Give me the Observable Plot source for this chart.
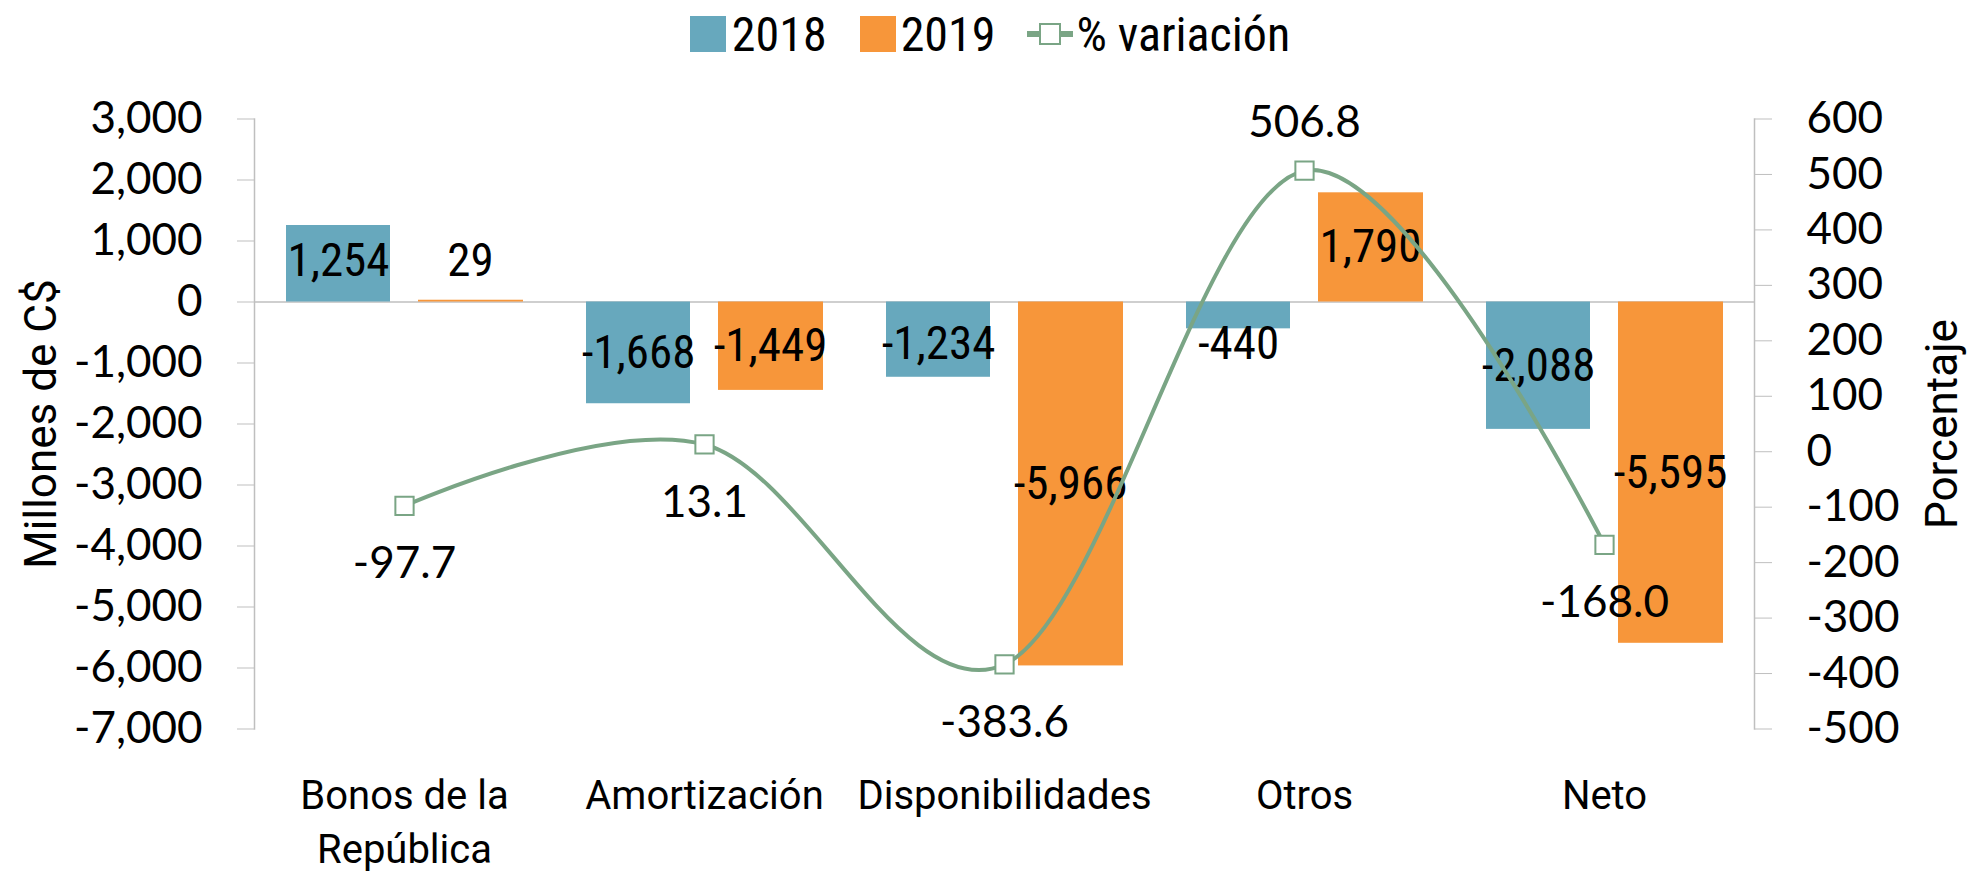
<!DOCTYPE html>
<html>
<head>
<meta charset="utf-8">
<script src="https://cdn.jsdelivr.net/npm/d3@7"></script>
<script src="https://cdn.jsdelivr.net/npm/@observablehq/plot@0.6"></script>
<style>
  html, body { margin: 0; padding: 0; background: #fff; }
  body { width: 1967px; height: 872px; overflow: hidden; }
  #legend {
    height: 68px; display: flex; align-items: center; justify-content: center;
    padding-left: 13px; box-sizing: border-box;
    font-family: "Liberation Sans Narrow", "Arial Narrow", "Roboto Condensed", Roboto, sans-serif;
    font-size: 48px; color: #000;
  }
  #legend .sw { width: 36px; height: 36px; display: inline-block; }
  #legend .item { display: flex; align-items: center; }
  #chart svg { display: block; }
</style>
</head>
<body>
<div id="legend">
  <div class="item"><span class="sw" style="background:#67a8bd"></span><span style="margin-left:6px">2018</span></div>
  <div class="item" style="margin-left:33px"><span class="sw" style="background:#f7963a"></span><span style="margin-left:5px">2019</span></div>
  <div class="item" style="margin-left:32px">
    <svg width="46" height="22" viewBox="0 0 46 22"><line x1="0" y1="11" x2="46" y2="11" stroke="#7aa585" stroke-width="6" stroke-linecap="round"/><rect x="13" y="1" width="20" height="20" fill="#fff" stroke="#7aa585" stroke-width="2"/></svg>
    <span style="margin-left:3px">% variación</span>
  </div>
</div>
<div id="chart"></div>
<script>
const categories = ["Bonos de la República", "Amortización", "Disponibilidades", "Otros", "Neto"];
const values2018 = [1254, -1668, -1234, -440, -2088];
const values2019 = [29, -1449, -5966, 1790, -5595];
const pctChange = [-97.7, 13.1, -383.6, 506.8, -168.0];
const leftTicks = [3000, 2000, 1000, 0, -1000, -2000, -3000, -4000, -5000, -6000, -7000];
const rightTicks = [600, 500, 400, 300, 200, 100, 0, -100, -200, -300, -400, -500];

const rows = categories.map((c, i) => ({cat: c, v2018: values2018[i], v2019: values2019[i], pct: pctChange[i]}));

// secondary axis: map percentage onto the left-axis units
const pctToY = d3.scaleLinear().domain([-500, 600]).range([-7000, 3000]);
const fmt = v => v.toLocaleString("en-US");
const labelY = v => Math.sign(v) * Math.max(Math.abs(v) / 2, 680);
const maxPct = d3.max(pctChange);

const GREEN = "#7aa585";
const GREY = "#bfbfbf";
const NARROW = '"Liberation Sans Narrow", "Arial Narrow", "Roboto Condensed", Roboto, sans-serif';
const GEO = 'Lato, "Open Sans", sans-serif';

const chart = Plot.plot({
  width: 1967,
  height: 804,
  marginLeft: 254,
  marginRight: 213,
  marginTop: 50.5,
  marginBottom: 143.5,
  style: {background: "#fff", overflow: "visible", fontFamily: GEO},
  x: {domain: categories, padding: 0, round: false, axis: null},
  y: {domain: [-7000, 3000], axis: null},
  marks: [
    Plot.ruleY([0], {stroke: GREY, strokeWidth: 1.5}),
    Plot.frame({anchor: "left", stroke: GREY, strokeWidth: 1.5}),
    Plot.frame({anchor: "right", stroke: GREY, strokeWidth: 1.5}),
    Plot.axisY(leftTicks, {anchor: "left", tickFormat: fmt, tickSize: 17, tickPadding: 35,
      fontSize: 44, stroke: GREY, label: null, fontFamily: GEO}),
    Plot.axisY(rightTicks.map(v => pctToY(v)), {anchor: "right",
      tickFormat: v => fmt(Math.round(pctToY.invert(v))), tickSize: 17, tickPadding: 35,
      fontSize: 44, stroke: GREY, label: null, fontFamily: GEO}),
    Plot.axisX({anchor: "bottom", tickSize: 0, tickPadding: 42, fontSize: 40, lineWidth: 7,
      lineHeight: 1.35, fontFamily: "Roboto, sans-serif", label: null}),
    Plot.text(["Millones de C$"], {frameAnchor: "left", textAnchor: "middle", dx: -213, rotate: -90,
      fontSize: 44, fontFamily: "Roboto, sans-serif"}),
    Plot.text(["Porcentaje"], {frameAnchor: "right", textAnchor: "middle", dx: 188, rotate: -90,
      fontSize: 44, fontFamily: "Roboto, sans-serif"}),
    Plot.barY(rows, {x: "cat", y: "v2018", fill: "#67a8bd", insetLeft: 32, insetRight: 164}),
    Plot.barY(rows, {x: "cat", y: "v2019", fill: "#f7963a", insetLeft: 164, insetRight: 31}),
    Plot.text(rows, {x: "cat", y: d => labelY(d.v2018), text: d => fmt(d.v2018), dx: -66,
      fontSize: 47, fontFamily: NARROW, fill: "#000"}),
    Plot.text(rows, {x: "cat", y: d => labelY(d.v2019), text: d => fmt(d.v2019), dx: 66,
      fontSize: 47, fontFamily: NARROW, fill: "#000"}),
    Plot.line(rows, {x: "cat", y: d => pctToY(d.pct), curve: "cardinal", stroke: GREEN, strokeWidth: 4}),
    Plot.dot(rows, {x: "cat", y: d => pctToY(d.pct), symbol: "square", r: 10.3, fill: "#fff",
      stroke: GREEN, strokeWidth: 2}),
    Plot.text(rows.filter(d => d.pct !== maxPct), {x: "cat", y: d => pctToY(d.pct),
      text: d => d.pct.toFixed(1), dy: 58, fontSize: 44, fontFamily: GEO, fill: "#000"}),
    Plot.text(rows.filter(d => d.pct === maxPct), {x: "cat", y: d => pctToY(d.pct),
      text: d => d.pct.toFixed(1), dy: -48, fontSize: 44, fontFamily: GEO, fill: "#000"})
  ]
});
document.getElementById("chart").appendChild(chart);
</script>
</body>
</html>
